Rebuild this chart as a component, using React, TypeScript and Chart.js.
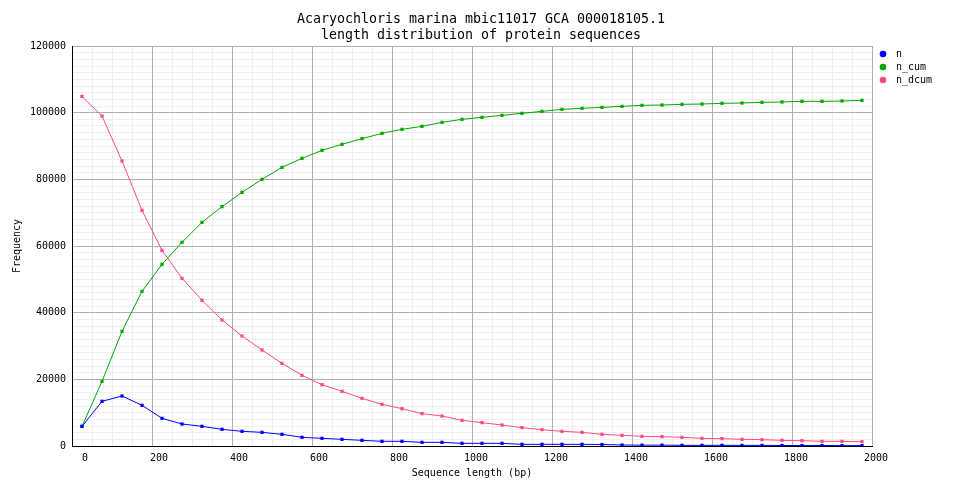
import React, { useEffect, useRef } from 'react';
import { Chart, registerables } from 'chart.js';

Chart.register(...registerables);

const FONT = '"DejaVu Sans Mono", "Liberation Mono", monospace';

const titleLines = [
  'Acaryochloris marina mbic11017 GCA 000018105.1',
  'length distribution of protein sequences',
];
const xAxisTitle = 'Sequence length (bp)';
const yAxisTitle = 'Frequency';
const seriesNames = ['n', 'n_cum', 'n_dcum'];
const seriesColors = ['#0000ff', '#00a800', '#ff4a80'];

const xTickLabels = [0, 200, 400, 600, 800, 1000, 1200, 1400, 1600, 1800, 2000];
const yTickLabels = [0, 20000, 40000, 60000, 80000, 100000, 120000];

const lengths = [
  25, 75, 125, 175, 225, 275, 325, 375, 425, 475,
  525, 575, 625, 675, 725, 775, 825, 875, 925, 975,
  1025, 1075, 1125, 1175, 1225, 1275, 1325, 1375, 1425, 1475,
  1525, 1575, 1625, 1675, 1725, 1775, 1825, 1875, 1925, 1975,
];

const nValues = [
  5900, 13400, 15000, 12200, 8300, 6600, 5900, 5000, 4400, 4100,
  3500, 2600, 2300, 2000, 1700, 1400, 1400, 1100, 1100, 800,
  800, 800, 500, 500, 500, 500, 450, 300, 250, 250,
  200, 200, 200, 180, 180, 150, 150, 150, 120, 120,
];

const nCumValues = [
  5900, 19400, 34400, 46400, 54500, 61100, 67100, 71800, 76100, 80000,
  83600, 86300, 88700, 90500, 92200, 93800, 95000, 95900, 97100, 98000,
  98600, 99200, 99800, 100400, 101000, 101300, 101600, 101900, 102200, 102300,
  102500, 102600, 102800, 102900, 103100, 103200, 103400, 103400, 103500, 103700,
];

const nDcumValues = [
  104900, 99000, 85500, 70700, 58700, 50300, 43700, 37800, 33000, 28800,
  24800, 21200, 18400, 16400, 14300, 12500, 11200, 9700, 9000, 7700,
  7000, 6300, 5500, 4900, 4400, 4100, 3500, 3200, 2900, 2800,
  2600, 2300, 2200, 2000, 1900, 1700, 1600, 1400, 1400, 1300,
];

const MAJOR_GRID = '#afafaf';
const MINOR_GRID = '#efefef';

function makeDot(color: string): HTMLCanvasElement {
  const c = document.createElement('canvas');
  c.width = 8;
  c.height = 8;
  const g = c.getContext('2d')!;
  g.fillStyle = color;
  g.beginPath();
  g.arc(4, 4, 3.3, 0, Math.PI * 2);
  g.fill();
  return c;
}

// keep the right-hand legend column at a fixed width so the plot ends at x=872
const legendWidthPlugin = {
  id: 'legendWidth',
  beforeLayout(chart: any) {
    const lg = chart.legend;
    if (lg && !lg.__fixedWidth) {
      const orig = lg.fit.bind(lg);
      lg.fit = () => {
        orig();
        lg.width = 90;
      };
      lg.__fixedWidth = true;
    }
  },
};

export default function App() {
  const canvasRef = useRef<HTMLCanvasElement | null>(null);

  useEffect(() => {
    if (!canvasRef.current) return;
    const series = [nValues, nCumValues, nDcumValues];
    const dots = seriesColors.map(makeDot);
    const tickFont = { family: FONT, size: 10 };

    const chart = new Chart(canvasRef.current, {
      type: 'line',
      data: {
        datasets: series.map((vals, si) => ({
          label: seriesNames[si],
          data: lengths.map((x, i) => ({ x, y: vals[i] })),
          borderColor: seriesColors[si],
          backgroundColor: seriesColors[si],
          borderWidth: 1,
          pointStyle: 'rect',
          pointRadius: 2.3,
          pointHoverRadius: 2.3,
          pointBorderWidth: 0,
          tension: 0,
          fill: false,
        })),
      },
      plugins: [legendWidthPlugin],
      options: {
        responsive: false,
        animation: false,
        devicePixelRatio: 1,
        events: [],
        layout: { padding: 0 },
        plugins: {
          title: {
            display: true,
            text: titleLines,
            color: '#000',
            font: { family: FONT, size: 13.3, weight: 'normal', lineHeight: '16px' },
            padding: { top: 12, bottom: 2 },
          },
          legend: {
            display: true,
            position: 'right',
            align: 'start',
            fullSize: false,
            labels: {
              usePointStyle: true,
              pointStyleWidth: 16,
              padding: 3,
              color: '#000',
              font: tickFont,
              generateLabels: (ch: any) => {
                const items = (Chart.defaults.plugins.legend.labels as any).generateLabels(ch);
                return items.map((it: any, i: number) => ({ ...it, pointStyle: dots[i] }));
              },
            },
          },
          tooltip: { enabled: false },
        },
        scales: {
          xMinor: {
            type: 'linear',
            position: 'bottom',
            min: 0,
            max: 2000,
            afterFit: (s: any) => {
              s.height = 0;
            },
            ticks: { display: false, stepSize: 50, autoSkip: false },
            grid: { color: MINOR_GRID, drawTicks: false, lineWidth: 1, z: -2 },
            border: { display: false },
          },
          yMinor: {
            type: 'linear',
            position: 'left',
            min: 0,
            max: 120000,
            afterFit: (s: any) => {
              s.width = 0;
            },
            ticks: { display: false, stepSize: 2000, autoSkip: false },
            grid: { color: MINOR_GRID, drawTicks: false, lineWidth: 1, z: -2 },
            border: { display: false },
          },
          x: {
            type: 'linear',
            position: 'bottom',
            min: 0,
            max: 2000,
            afterFit: (s: any) => {
              s.height = 52;
            },
            ticks: {
              stepSize: 200,
              autoSkip: false,
              maxRotation: 0,
              minRotation: 0,
              align: 'end',
              labelOffset: 16,
              padding: 6,
              color: '#000',
              font: tickFont,
              callback: (v: any) => (xTickLabels.includes(Number(v)) ? String(v) : ''),
            },
            grid: { color: MAJOR_GRID, drawTicks: false, lineWidth: 1, z: -1 },
            border: { display: true, color: '#000', width: 1 },
            title: {
              display: true,
              text: xAxisTitle,
              color: '#000',
              font: tickFont,
              padding: { top: 0, bottom: 19 },
            },
          },
          y: {
            type: 'linear',
            position: 'left',
            min: 0,
            max: 120000,
            afterFit: (s: any) => {
              s.width = 72;
            },
            ticks: {
              stepSize: 20000,
              autoSkip: false,
              padding: 6,
              color: '#000',
              font: tickFont,
              callback: (v: any) => (yTickLabels.includes(Number(v)) ? String(v) : ''),
            },
            grid: { color: MAJOR_GRID, drawTicks: false, lineWidth: 1, z: -1 },
            border: { display: true, color: '#000', width: 1 },
            title: {
              display: true,
              text: yAxisTitle,
              color: '#000',
              font: tickFont,
              padding: { top: 11, bottom: 0 },
            },
          },
        },
      } as any,
    });

    return () => chart.destroy();
  }, []);

  return (
    <div style={{ position: 'absolute', left: 0, top: 0, width: 962, height: 498, background: '#fff' }}>
      <canvas ref={canvasRef} width={962} height={498} style={{ display: 'block' }} />
    </div>
  );
}
